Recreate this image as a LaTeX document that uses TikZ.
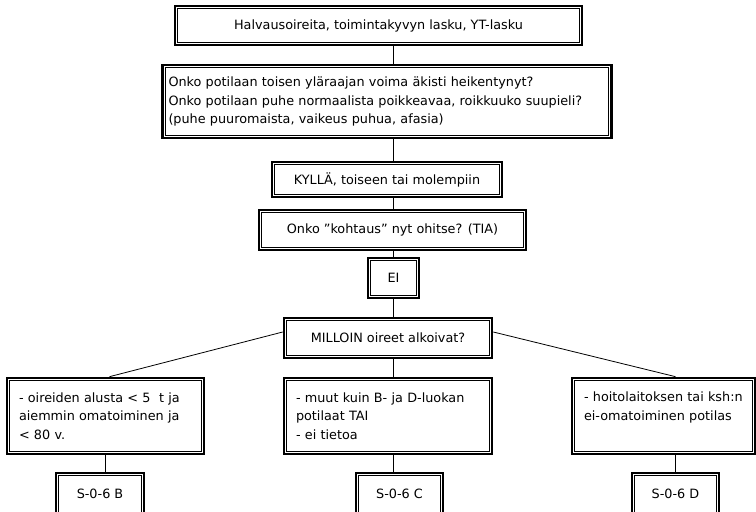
\documentclass[tikz,border=0pt]{standalone}
\usepackage{fontspec}
\setmainfont{DejaVu Sans}
\usetikzlibrary{calc}

\begin{document}
\begin{tikzpicture}[
    x=0.75pt,y=-0.75pt,
    box/.style={draw,line width=2pt,inner sep=0pt,font=\fontsize{9.6}{14}\selectfont,
      path picture={\draw[line width=0.75pt] ([shift={(2.1pt,-2.1pt)}]path picture bounding box.north west) rectangle ([shift={(-2.1pt,2.1pt)}]path picture bounding box.south east);}},
    txt/.style={box,align=left,inner xsep=9pt},
    link/.style={line width=0.6pt}
]
\useasboundingbox (0,0) rectangle (756,511);
\coordinate (stem) at (393,0);

\node[box,minimum width=305.25pt,minimum height=29.25pt] (oire) at (378.5,25.5) {Halvausoireita, toimintakyvyn lasku, YT-lasku};
\node[txt,inner xsep=4.5pt,text width=327.75pt,minimum height=54.75pt] (kysy) at (387,101.5) {Onko potilaan toisen yläraajan voima äkisti heikentynyt?\\Onko potilaan puhe normaalista poikkeavaa, roikkuuko suupieli?\\(puhe puuromaista, vaikeus puhua, afasia)};
\node[box,minimum width=172.5pt,minimum height=26.25pt] (kylla) at (387,179.5) {KYLLÄ, toiseen tai molempiin};
\node[box,minimum width=200.25pt,minimum height=30pt] (tia) at (392.5,230) {Onko ”kohtaus” nyt ohitse? (TIA)};
\node[box,minimum width=38.25pt,minimum height=30pt] (ei) at (393.5,278) {EI};
\node[box,minimum width=156pt,minimum height=30pt] (milloin) at (388,338) {MILLOIN oireet alkoivat?};

\node[txt,text width=129.75pt,minimum height=57pt] (luokkaB) at (105.5,416) {- oireiden alusta < 5\ \ t ja\\aiemmin omatoiminen ja\\< 80 v.};
\node[txt,text width=138pt,minimum height=57pt] (luokkaC) at (388,416) {- muut kuin B- ja D-luokan\\potilaat TAI\\- ei tietoa};
\node[txt,text width=119.25pt,minimum height=57pt,text depth=28.5pt] (luokkaD) at (663.5,416) {- hoitolaitoksen tai ksh:n\\ei-omatoiminen potilas};

\node[box,minimum width=66pt,minimum height=31.5pt] (sB) at (100,494) {S-0-6 B};
\node[box,minimum width=65.25pt,minimum height=31.5pt] (sC) at (399.5,494) {S-0-6 C};
\node[box,minimum width=65.25pt,minimum height=31.5pt] (sD) at (675.5,494) {S-0-6 D};

\draw[link] (oire.south -| stem) -- (kysy.north -| stem);
\draw[link] (kysy.south -| stem) -- (kylla.north -| stem);
\draw[link] (kylla.south -| stem) -- (tia.north -| stem);
\draw[link] (tia.south -| stem) -- (ei.north -| stem);
\draw[link] (ei.south -| stem) -- (milloin.north -| stem);
\draw[link] (milloin.south -| stem) -- (luokkaC.north -| stem);
\draw[link] (luokkaC.south -| stem) -- (sC.north -| stem);
\draw[link] ([yshift=4.5pt]milloin.west) -- ([xshift=3pt]luokkaB.north);
\draw[link] ([yshift=4.5pt]milloin.east) -- (luokkaD.north -| sD.north);
\draw[link] (luokkaB.south) -- (sB.north -| luokkaB.south);
\draw[link] (luokkaD.south -| sD.north) -- (sD.north);
\end{tikzpicture}
\end{document}
